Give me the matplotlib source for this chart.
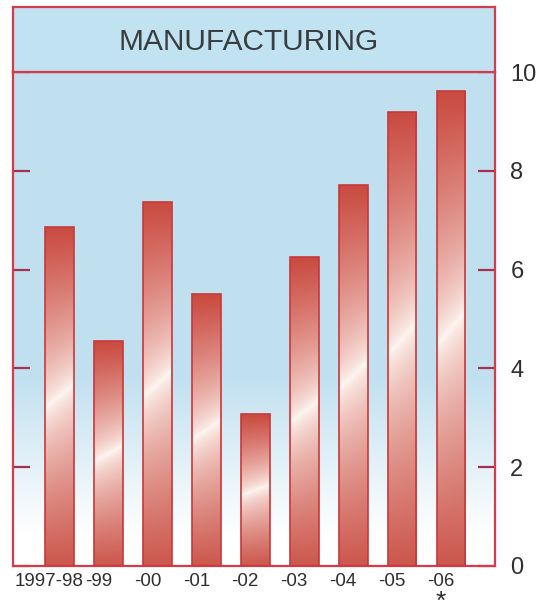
import matplotlib
matplotlib.use("Agg")
import matplotlib.pyplot as plt
import matplotlib.transforms as mtransforms
import numpy as np

plt.rcParams['font.family'] = ['Liberation Sans', 'DejaVu Sans']

categories = ['1997-98', '-99', '-00', '-01', '-02', '-03', '-04', '-05', '-06']
values = [6.87, 4.55, 7.37, 5.5, 3.07, 6.25, 7.72, 9.2, 9.62]
yticks = [0, 2, 4, 6, 8, 10]
title = 'MANUFACTURING'

frame_red = '#d23c4c'
tick_red = '#a8304e'
text_grey = '#2e2e2e'

fig = plt.figure(figsize=(5.43, 6.15), dpi=100)
ax = fig.add_axes([0.0239, 0.0797, 0.8877, 0.8032])
tax = fig.add_axes([0.0239, 0.8829, 0.8877, 0.1057])

x = np.arange(len(values))
ax.set_xlim(-0.95, 8.9)
ax.set_ylim(0, 10)

# background: light blue fading to white towards the bottom
t = np.linspace(0, 1, 256)[:, None]
top = np.array([0.76, 0.88, 0.94])
white = np.array([1.0, 1.0, 1.0])
mix = np.clip((t - 0.06) / 0.32, 0, 1)
bg = white + (top - white) * mix[..., None]
ax.imshow(bg, extent=(-0.95, 8.9, 0, 10), origin='lower', aspect='auto',
          zorder=0, interpolation='bilinear')

bars = ax.bar(x, values, width=0.59, facecolor='none', edgecolor='#c8383a',
              linewidth=1.2, zorder=3)

# glossy red gradient inside every bar
red_top = np.array([0.79, 0.29, 0.25])
red_bot = np.array([0.80, 0.34, 0.30])
shine = np.array([1.0, 0.97, 0.95])
ny, nx = 300, 24
yy = np.linspace(0, 1, ny)[:, None]
xx = np.linspace(-1, 1, nx)[None, :]
for rect in bars:
    centre = 0.5 + 0.035 * xx
    up = np.clip((yy - centre) / (1 - centre), 0, 1) ** 0.7
    down = np.clip((centre - yy) / centre, 0, 1) ** 0.7
    img = np.empty((ny, nx, 3))
    for c in range(3):
        img[..., c] = np.where(yy >= centre,
                               shine[c] + (red_top[c] - shine[c]) * up,
                               shine[c] + (red_bot[c] - shine[c]) * down)
    x0, w, h = rect.get_x(), rect.get_width(), rect.get_height()
    im = ax.imshow(img, extent=(x0, x0 + w, 0, h), origin='lower',
                   aspect='auto', zorder=2, interpolation='bilinear')
    im.set_clip_path(rect)

ax.set_xticks(x)
ax.set_xticklabels(categories, fontsize=13.5, color=text_grey)
ax.tick_params(axis='x', length=0, pad=5)
shift = mtransforms.ScaledTranslation(-10 / 100, 0, fig.dpi_scale_trans)
for lab in ax.get_xticklabels():
    lab.set_transform(lab.get_transform() + shift)

ax.set_yticks(yticks)
ax.yaxis.tick_right()
ax.tick_params(axis='y', left=True, right=True, direction='in',
               labelleft=False, labelright=True, length=12, width=1.6,
               color=tick_red, pad=11, labelsize=17, labelcolor=text_grey)
for s in ax.spines.values():
    s.set_color(frame_red)
    s.set_linewidth(1.6)

# footnote star under the last label (mathregular keeps its box tight)
trans = mtransforms.blended_transform_factory(ax.transData, ax.transAxes)
ax.text(8 - 0.2, -0.07, r'$\mathregular{*}$', transform=trans,
        ha='center', va='center', fontsize=19, color=text_grey)

# title box
tax.set_facecolor('#c0e2f1')
tax.set_xticks([])
tax.set_yticks([])
for s in tax.spines.values():
    s.set_color(frame_red)
    s.set_linewidth(1.6)
tax.text(0.488, 0.46, title, ha='center', va='center', fontsize=21.5,
         color='#3a3d40', transform=tax.transAxes)

fig.savefig('out.png', dpi=100)
